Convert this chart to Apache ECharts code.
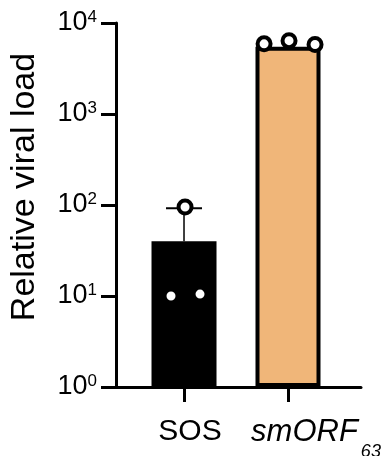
<!DOCTYPE html>
<html><head><meta charset="utf-8">
<script src="https://cdn.jsdelivr.net/npm/echarts@6/dist/echarts.min.js"></script>
<style>html,body{margin:0;padding:0;background:#fff}#c{width:382px;height:456px}</style>
</head><body><div id="c"></div>
<script>
// ---- data ----
var categories = ['SOS', 'smORF63'];
var catPos = [0, 1];
var barMeans = [40, 5500];
var barSD = [52, 0];
var sosPointsX = [-0.125, 0.154, 0.01];
var sosPointsY = [10, 10.5, 95];
var smorfPointsX = [0.77, 1.01, 1.26];
var smorfPointsY = [5900, 6400, 5800];
var yTickExponents = [0, 1, 2, 3, 4];

var barColors = ['#000000', '#F0B679'];
var font = '"Liberation Sans", Arial, sans-serif';

var chart = echarts.init(document.getElementById('c'));
var barData = catPos.map(function (x, i) {
  return { value: [x, barMeans[i]], itemStyle: { color: barColors[i] } };
});
var errData = catPos.map(function (x, i) { return [x, barMeans[i], barMeans[i] + barSD[i]]; })
  .filter(function (d, i) { return barSD[i] > 0; });
var pts = sosPointsX.map(function (x, i) { return [x, sosPointsY[i]]; })
  .concat(smorfPointsX.map(function (x, i) { return [x, smorfPointsY[i]]; }));

chart.setOption({
  animation: false,
  grid: { left: 116, right: 21, top: 23, bottom: 69, containLabel: false, outerBoundsMode: 'none' },
  xAxis: {
    type: 'value', min: -0.654, max: 1.702,
    splitLine: { show: false },
    axisLine: { show: true, onZero: false, lineStyle: { color: '#000', width: 3 } },
    axisTick: { show: true, customValues: catPos, length: 15, lineStyle: { color: '#000', width: 3 } },
    axisLabel: {
      customValues: catPos, margin: 30, color: '#000', fontFamily: font, fontSize: 30,
      formatter: function (v) { return Math.round(v) === 0 ? '{a|SOS}' : '{i|smORF}{s|63}'; },
      rich: {
        a: { fontFamily: font, fontSize: 30, color: '#000', padding: [0, 0, 0, 12], verticalAlign: 'top' },
        i: { fontFamily: font, fontSize: 31, fontStyle: 'italic', color: '#000', padding: [0, 0, 0, 56], verticalAlign: 'top' },
        s: { fontFamily: font, fontSize: 18, fontStyle: 'italic', color: '#000', padding: [26, 0, 0, 3], verticalAlign: 'top' }
      }
    }
  },
  yAxis: {
    type: 'log', logBase: 10, min: 1, max: 10000,
    splitLine: { show: false },
    axisLine: { show: true, onZero: false, lineStyle: { color: '#000', width: 3 } },
    axisTick: { show: true, inside: false, length: 15, lineStyle: { color: '#000', width: 3 } },
    minorTick: { show: false },
    axisLabel: {
      margin: 19, color: '#000', fontFamily: font, fontSize: 27,
      formatter: function (v) { return '10{s|' + Math.round(Math.log10(v)) + '}'; },
      rich: { s: { fontFamily: font, fontSize: 17, color: '#000', padding: [0, 0, 12, 0] } }
    }
  },
  graphic: [{
    type: 'text', x: 25, y: 187, rotation: Math.PI / 2,
    style: { text: 'Relative viral load', font: '34px "Liberation Sans", Arial, sans-serif', fill: '#000', textAlign: 'center', textVerticalAlign: 'middle' }
  }],
  series: [
    {
      type: 'bar', data: barData, barWidth: 65,
      itemStyle: { borderColor: '#000', borderWidth: 4 }, z: 2
    },
    {
      type: 'custom', data: errData, z: 3,
      renderItem: function (params, api) {
        var x = api.value(0);
        var p0 = api.coord([x, api.value(1)]);
        var p1 = api.coord([x, api.value(2)]);
        return {
          type: 'group', children: [
            { type: 'line', shape: { x1: p0[0], y1: p0[1], x2: p1[0], y2: p1[1] }, style: { stroke: '#000', lineWidth: 1.5 } },
            { type: 'line', shape: { x1: p1[0] - 18, y1: p1[1], x2: p1[0] + 18, y2: p1[1] }, style: { stroke: '#000', lineWidth: 2 } }
          ]
        };
      }
    },
    {
      type: 'scatter', data: pts, symbol: 'circle', symbolSize: 13, z: 4,
      itemStyle: { color: '#fff', borderColor: '#000', borderWidth: 4, opacity: 1 }
    }
  ]
});
</script></body></html>
